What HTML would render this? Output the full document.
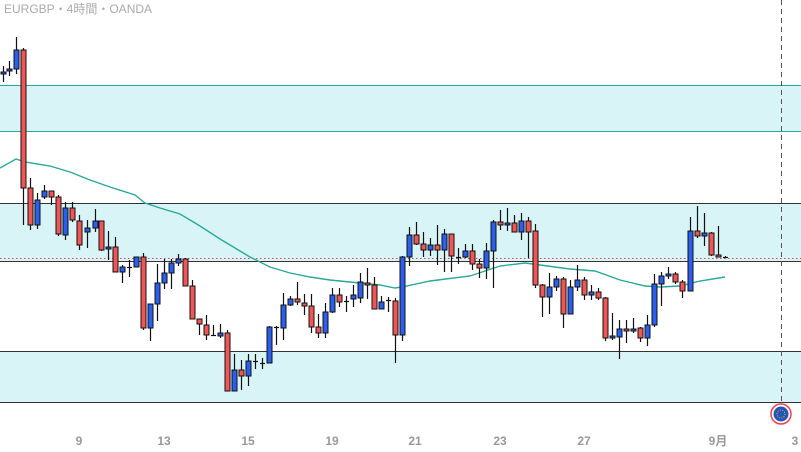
<!DOCTYPE html>
<html><head><meta charset="utf-8"><style>
html,body{margin:0;padding:0;background:#fff;}
svg{display:block;font-family:"Liberation Sans","Noto Sans CJK JP",sans-serif;}
</style></head><body>
<svg id="s" width="801" height="452" viewBox="0 0 801 452" xmlns="http://www.w3.org/2000/svg">
<rect x="0" y="85" width="801" height="47" fill="#d8f4f6"/>
<line x1="0" y1="85.5" x2="801" y2="85.5" stroke="#2aa89a" stroke-width="1"/>
<line x1="0" y1="131.5" x2="801" y2="131.5" stroke="#2aa89a" stroke-width="1"/>
<rect x="0" y="203" width="801" height="58" fill="#d8f4f6"/>
<line x1="0" y1="203.5" x2="801" y2="203.5" stroke="#333" stroke-width="1"/>
<line x1="0" y1="261.5" x2="801" y2="261.5" stroke="#333" stroke-width="1"/>
<rect x="0" y="351" width="801" height="51" fill="#d8f4f6"/>
<line x1="0" y1="351.5" x2="801" y2="351.5" stroke="#333" stroke-width="1"/>
<line x1="0" y1="402.5" x2="801" y2="402.5" stroke="#333" stroke-width="1"/>
<line x1="0" y1="258.5" x2="801" y2="258.5" stroke="#e04050" stroke-width="1" stroke-dasharray="1.5,2.5"/>
<line x1="781.5" y1="0" x2="781.5" y2="402" stroke="#555" stroke-width="1" stroke-dasharray="5,4"/>
<polyline fill="none" stroke="#2aa89a" stroke-width="1.4" points="0,168 16,159 25,162 50,166 70,172 90,180 110,187 135,195 145,203 160,208 180,214 200,226 220,239 235,248 250,257 270,267 290,273 310,277 330,280 360,283 380,285 395,288 402,287 430,281 470,276 500,266 525,263 540,265 570,269 595,271 620,280 645,286 660,287 680,286 700,281 725,277"/>
<g id="c"></g>
<text x="4" y="13" font-size="12" fill="#aaa">EURGBP・4時間・OANDA</text>
<g font-size="12" fill="#999" text-anchor="middle" font-weight="bold">
<text x="79" y="445">9</text><text x="164" y="445">13</text><text x="248" y="445">15</text>
<text x="332" y="445">19</text><text x="415" y="445">21</text><text x="500" y="445">23</text>
<text x="584" y="445">27</text><text x="718" y="445">9月</text><text x="795" y="445">3</text>
</g>
<circle cx="781" cy="414" r="10" fill="#fff" stroke="#e8414f" stroke-width="1.5"/>
<circle cx="781" cy="414" r="7.5" fill="#2455b8"/>
<circle cx="781" cy="414" r="4" fill="none" stroke="#f0c020" stroke-width="1" stroke-dasharray="1,1.5"/>
</svg>
<script>
var d=[
[3,72,74,66,82,'b'],[9,69,71,61,76,'b'],[16,50,69,37,74,'b'],[23,50,188,48,225,'r'],
[30,188,225,178,230,'r'],[37,200,225,193,229,'b'],[44,191,197,185,199,'b'],[51,191,197,191,205,'r'],
[58,197,234,195,236,'r'],[65,208,235,202,240,'b'],[72,208,220,202,222,'r'],[79,221,245,215,250,'r'],
[87,228,232,220,248,'b'],[95,221,228,209,232,'b'],[101,221,250,221,251,'r'],[108,247,249,231,260,'b'],
[115,247,272,237,272,'r'],[122,267,272,265,283,'b'],[129,267,267,260,277,'b'],[136,257,267,257,267,'b'],
[143,257,328,253,330,'r'],[150,304,328,304,341,'b'],[157,283,304,264,321,'b'],[164,273,283,259,289,'b'],
[171,263,273,259,289,'b'],[178,259,263,254,266,'b'],[185,259,286,258,286,'r'],[192,286,319,280,319,'r'],
[199,319,324,319,335,'r'],[206,325,335,315,340,'r'],[213,335,335,325,335,'b'],[220,333,336,324,338,'b'],
[227,333,391,330,391,'r'],[234,370,391,354,391,'b'],[241,370,376,360,390,'r'],[248,361,376,354,386,'b'],
[255,361,361,354,369,'b'],[262,363,363,358,369,'b'],[269,327,363,326,363,'b'],[276,327,327,326,345,'b'],
[283,305,328,293,340,'b'],[290,299,305,296,306,'b'],[297,299,302,282,305,'r'],[304,303,306,294,315,'r'],
[311,306,327,294,333,'r'],[318,327,333,314,338,'r'],[325,312,333,303,338,'b'],[332,295,312,288,313,'b'],
[339,295,302,288,307,'r'],[346,301,301,296,312,'b'],[353,295,299,285,307,'b'],[360,282,298,273,303,'b'],
[367,283,285,268,299,'r'],[374,285,309,277,309,'r'],[381,302,309,296,309,'b'],[388,300,300,297,312,'b'],
[395,301,335,298,363,'r'],[402,257,335,256,341,'b'],[409,235,257,227,266,'b'],[416,235,244,222,245,'r'],
[423,244,250,232,257,'r'],[430,245,250,238,256,'b'],[437,245,250,225,265,'r'],[444,234,250,229,272,'b'],
[451,234,256,234,272,'r'],[458,257,257,248,264,'b'],[465,251,257,244,258,'b'],[472,251,264,244,270,'r'],
[479,264,268,259,278,'r'],[486,251,268,243,279,'b'],[493,222,251,220,288,'b'],[500,222,225,210,230,'r'],
[507,223,225,208,231,'b'],[514,223,232,215,232,'r'],[521,221,232,213,240,'b'],[528,221,232,217,258,'r'],
[535,231,285,224,288,'r'],[542,285,297,284,317,'r'],[549,287,297,273,314,'b'],[556,279,287,276,291,'b'],
[563,279,314,277,328,'r'],[570,287,314,280,314,'b'],[577,280,287,265,291,'b'],[584,280,295,277,300,'r'],
[591,292,295,285,300,'b'],[598,292,298,288,300,'r'],[605,298,338,297,341,'r'],[612,336,338,313,340,'b'],
[619,329,337,320,359,'b'],[626,329,331,320,343,'r'],[633,329,331,318,333,'b'],[640,328,338,327,342,'r'],
[647,325,338,315,346,'b'],[654,284,325,274,327,'b'],[661,276,284,272,306,'b'],[668,274,276,267,279,'b'],
[675,274,282,272,284,'r'],[682,282,291,280,298,'r'],[690,231,291,217,291,'b'],[697,231,236,206,238,'r'],
[704,233,236,213,246,'b'],[711,233,255,232,256,'r'],[718,255,257,226,257,'r'],[725,257,257,256,258,'b']];
var g=document.getElementById('c'),h='';
d.forEach(function(a){var x=a[0],t=a[1],b=a[2];
h+='<line x1="'+(x+.5)+'" y1="'+a[3]+'" x2="'+(x+.5)+'" y2="'+a[4]+'" stroke="#111" stroke-width="1.2"/>';
if(b-t<1){h+='<line x1="'+(x-2)+'" y1="'+(t+.5)+'" x2="'+(x+3)+'" y2="'+(t+.5)+'" stroke="#111" stroke-width="1.2"/>';}
else h+='<rect x="'+(x-2)+'" y="'+t+'" width="5" height="'+(b-t)+'" fill="'+(a[5]=='r'?'#f25555':'#2b5ff0')+'" stroke="#111" stroke-width="1"/>';});
g.innerHTML=h;
</script>
</body></html>
